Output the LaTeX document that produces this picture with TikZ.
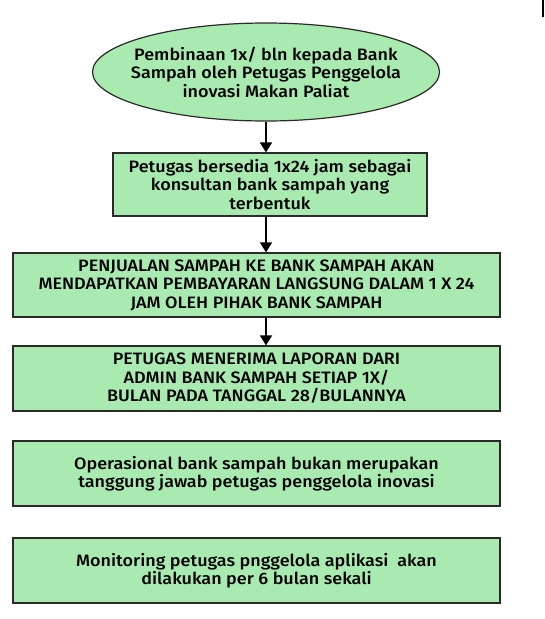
\documentclass[tikz,border=0pt]{standalone}
\usepackage{fontspec}
\setmainfont{Fira Sans}[UprightFont={* Medium},FakeStretch=1.09]
\usetikzlibrary{shapes.geometric,arrows.meta}
\definecolor{boxgreen}{HTML}{A8EAAF}
\definecolor{edge}{HTML}{2A2A2A}
\tikzset{
  txt/.style={font=\fontsize{16.5}{18.5}\selectfont},
  box/.style={txt,draw=edge,line width=1.2pt,fill=boxgreen,minimum height=64pt,align=center,inner sep=0pt},
  oval/.style={txt,ellipse,draw=edge,line width=1.2pt,fill=boxgreen,minimum width=347pt,minimum height=98pt,align=center,inner xsep=-60pt,inner ysep=0pt},
  arr/.style={-{Triangle[length=10pt,width=12pt]},line width=1.6pt,black}
}
\begin{document}
\begin{tikzpicture}[x=1pt,y=-1pt]
\useasboundingbox (0,0) rectangle (544,619);
\node[oval] (e) at (266,72) {Pembinaan 1x/ bln kepada Bank\\Sampah oleh Petugas Penggelola\\inovasi Makan Paliat};
\node[box,minimum width=314pt,minimum height=63pt] (b2) at (270,184.5) {Petugas bersedia 1x24 jam sebagai\\konsultan bank sampah yang\\terbentuk};
\node[box,minimum width=487pt] (b3) at (256.5,285) {PENJUALAN SAMPAH KE BANK SAMPAH AKAN\\MENDAPATKAN PEMBAYARAN LANGSUNG DALAM 1 X 24\\JAM OLEH PIHAK BANK SAMPAH};
\node[box,minimum width=487pt,minimum height=65pt] (b4) at (256.5,378.5) {PETUGAS MENERIMA LAPORAN DARI\\ADMIN BANK SAMPAH SETIAP 1X/\\BULAN PADA TANGGAL 28/BULANNYA};
\node[box,minimum width=487pt,minimum height=65pt] (b5) at (256.5,473.5) {Operasional bank sampah bukan merupakan\\tanggung jawab petugas penggelola inovasi};
\node[box,minimum width=487pt,minimum height=65pt] (b6) at (256.5,570.5) {Monitoring petugas pnggelola aplikasi\ \ akan\\dilakukan per 6 bulan sekali};
\draw[arr] (e.south) -- (e.south |- b2.north);
\draw[arr] (e.south |- b2.south) -- (e.south |- b3.north);
\draw[arr] (e.south |- b3.south) -- (e.south |- b4.north);
\fill[black] (541.5,0) rectangle (543.5,17);
\end{tikzpicture}
\end{document}
